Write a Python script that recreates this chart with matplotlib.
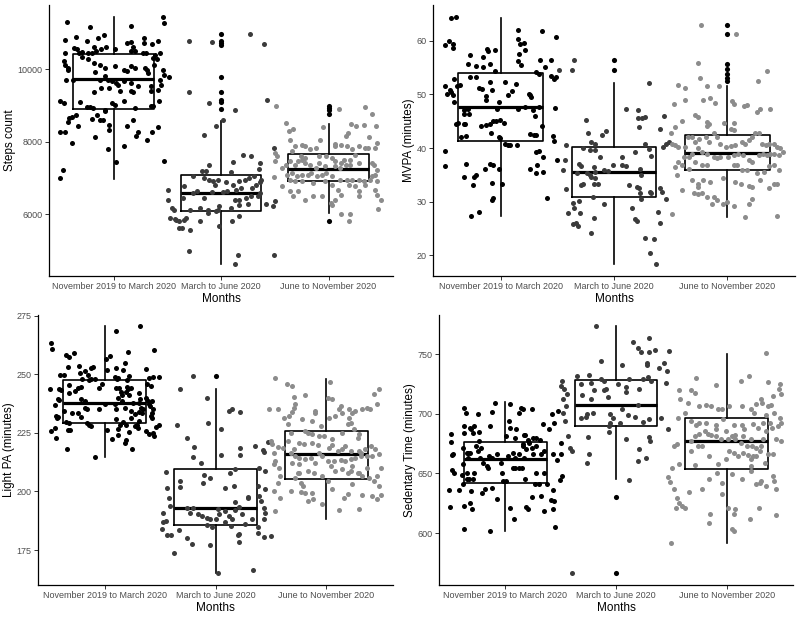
import matplotlib
matplotlib.use('Agg')
import matplotlib.pyplot as plt

plt.rcParams['font.family'] = ['Liberation Sans', 'DejaVu Sans']

months = ['November 2019 to March 2020', 'March to June 2020', 'June to November 2020']
colours = ['#000000', '#3b3b3b', '#8c8c8c']

# box summaries per group: (lower whisker, q1, median, q3, upper whisker)
steps_box = [(6965, 8897, 9724, 10414, 11434), (4612, 6082, 6570, 7084, 8574), (6019, 6910, 7241, 7647, 8483)]
steps_out = [[], [10965, 10763, 10717, 10671, 9789, 9366, 9154, 9081, 8887], [8979, 8932, 8869, 8758, 5806]]
mvpa_box = [(27.3, 41.4, 47.7, 54.0, 64.2), (18.3, 30.8, 35.55, 40.2, 52.2), (27.15, 35.8, 39.1, 42.4, 51.5)]
mvpa_out = [[], [56.5, 54.65], [63.05, 61.37, 55.77, 54.84, 53.9, 53.1, 52.5]]
light_box = [(214.7, 229.4, 237.8, 247.4, 270.6), (165.4, 185.8, 193.1, 209.5, 243.6), (188.4, 205.2, 215.9, 225.8, 247.9)]
light_out = [[], [249.3], []]
sed_box = [(601.7, 642.2, 662.3, 676.3, 710.1), (645.0, 689.7, 707.3, 727.9, 773.5), (591.9, 653.9, 677.4, 696.1, 750.3)]
sed_out = [[], [630.2, 566.8], []]

# jittered points: (horizontal jitter, value)
steps_g1 = [(-0.43, 11290), (-0.22, 11160), (0.16, 11200), (0.46, 11430), (0.47, 11270),
            (-0.45, 10790), (-0.35, 10880), (-0.25, 10780), (-0.14, 10860), (-0.09, 10940), (-0.07, 10620),
            (-0.12, 10550), (-0.18, 10620), (-0.37, 10580), (-0.34, 10550), (-0.32, 10440), (-0.29, 10460),
            (-0.24, 10440), (-0.20, 10440), (-0.16, 10490), (0.01, 10550), (0.13, 10720), (0.16, 10740),
            (0.18, 10620), (0.16, 10490), (0.20, 10490), (0.28, 10860), (0.28, 10720), (0.36, 10700),
            (0.41, 10780), (0.43, 10440), (0.39, 10400), (0.37, 10300), (0.40, 10280), (0.30, 10440), (0.27, 10440),
            (-0.45, 10440), (-0.46, 10210), (-0.45, 10120), (-0.42, 10030), (-0.42, 9980), (-0.44, 9710), (-0.38, 9710),
            (-0.29, 10330), (-0.24, 10290), (-0.18, 10170), (-0.13, 10120), (-0.08, 10030), (0.01, 10070),
            (0.10, 9980), (0.13, 9940), (0.16, 10070), (0.20, 10030), (0.29, 10030), (0.31, 9980), (0.38, 10120),
            (0.46, 9980), (0.47, 9840), (0.52, 9780),
            (-0.17, 9920), (-0.08, 9800), (-0.13, 9710), (-0.05, 9710), (-0.01, 9660), (0.04, 9570), (0.10, 9660),
            (0.16, 9610), (0.23, 9520), (0.32, 9890), (0.35, 9520), (0.43, 9710), (0.44, 9570), (0.41, 9430), (0.35, 9380),
            (-0.18, 9360), (-0.12, 9480), (-0.04, 9480), (0.02, 9610), (0.06, 9380), (0.16, 9380), (0.18, 9360),
            (-0.50, 9110), (-0.46, 9060), (-0.31, 9090), (-0.25, 8950), (-0.22, 8950), (-0.19, 8920), (-0.08, 8880),
            (-0.08, 8830), (0.01, 9020), (-0.01, 9060), (0.10, 9110), (0.20, 8920), (0.35, 8970), (0.37, 8990), (0.42, 9110),
            (-0.35, 8740), (-0.39, 8680), (-0.41, 8650), (-0.42, 8530), (-0.33, 8420), (-0.20, 8620), (-0.15, 8740),
            (-0.13, 8580), (-0.10, 8600), (-0.04, 8460), (-0.04, 8310), (0.18, 8580), (0.13, 8420), (0.23, 8250),
            (0.21, 8140), (0.36, 8250), (0.41, 8400),
            (-0.50, 8250), (-0.45, 8250), (-0.39, 7960), (-0.17, 8120), (-0.05, 7800), (0.10, 7890), (0.31, 8030),
            (0.47, 7450), (0.02, 7430), (-0.47, 7210), (-0.50, 6980)]
steps_g2 = [(-0.30, 10760), (-0.08, 10740), (0.27, 10970), (0.40, 10700), (-0.30, 9370), (-0.11, 9060), (0.13, 8880),
            (0.43, 9140), (-0.05, 8420), (0.02, 8580), (-0.16, 8190), (0.20, 7640), (0.28, 7610), (0.11, 7440),
            (-0.11, 7360), (0.36, 7410), (0.49, 7820),
            (-0.26, 7040), (-0.18, 7180), (-0.14, 7180), (-0.16, 6990), (-0.11, 6950), (-0.07, 6900), (-0.03, 6950),
            (-0.06, 6810), (0.05, 6870), (0.09, 7160), (0.11, 6810), (0.17, 6900), (0.22, 6950), (0.26, 6990),
            (0.31, 7040), (0.35, 7240), (0.36, 6870), (0.37, 6950), (0.33, 6810), (0.29, 6720), (0.19, 6720),
            (0.14, 6670), (0.06, 6630), (0.02, 6600), (-0.08, 6600), (-0.16, 6440), (-0.22, 6630), (-0.34, 6760),
            (-0.35, 6440), (-0.26, 6580), (0.13, 6400), (0.17, 6400), (0.23, 6440), (0.28, 6490), (0.34, 6490),
            (0.36, 6580), (0.42, 6290), (0.50, 6350), (0.48, 6210), (-0.02, 6210), (-0.03, 6120), (-0.05, 6070),
            (-0.12, 6120), (-0.20, 6170), (-0.29, 6120), (0.09, 6170), (0.17, 6260), (0.25, 6290),
            (-0.49, 6670), (-0.49, 6400), (-0.46, 6170), (-0.44, 6120), (-0.47, 5890), (-0.43, 5860), (-0.42, 5840),
            (-0.39, 5800), (-0.34, 5840), (-0.33, 5890), (-0.39, 5610), (-0.36, 5610), (-0.29, 5570), (-0.20, 5800),
            (-0.12, 6030), (-0.02, 5680), (0.10, 5800), (0.17, 5950), (-0.30, 4970), (0.16, 4880), (0.13, 4630), (0.49, 4860)]
steps_g3 = [(-0.49, 8970), (-0.40, 8510), (-0.33, 8350), (-0.37, 8280), (-0.05, 8390), (0.10, 8910), (0.34, 8950),
            (0.40, 8760), (0.21, 8480), (0.26, 8440), (0.33, 8460), (0.44, 8440), (0.18, 8240), (0.16, 8160),
            (0.38, 8120), (0.45, 7960), (0.43, 7820), (0.37, 7820), (0.28, 7870),
            (-0.36, 8050), (-0.31, 7870), (-0.25, 7910), (-0.22, 7890), (-0.34, 7730), (-0.17, 7780), (-0.12, 7820),
            (-0.08, 8050), (0.06, 7930), (0.06, 7870), (0.12, 7910), (0.17, 7870), (0.22, 7780), (0.34, 7820),
            (0.25, 7640), (0.20, 7500), (0.14, 7500), (0.12, 7410), (0.06, 7450), (0.03, 7550), (-0.02, 7590),
            (-0.09, 7590), (-0.22, 7550), (-0.26, 7610), (-0.48, 7590), (-0.50, 7450), (-0.43, 7270), (-0.40, 7360),
            (-0.36, 7450), (-0.31, 7360), (-0.28, 7450), (-0.25, 7500), (-0.22, 7410), (-0.17, 7360), (-0.12, 7270),
            (-0.09, 7410), (-0.03, 7320), (0.06, 7320), (0.11, 7270), (0.16, 7360), (0.20, 7360), (0.28, 7410),
            (0.40, 7410), (0.42, 7360), (0.45, 7220), (0.43, 7090), (0.40, 7040), (0.39, 6950), (0.33, 6900),
            (0.28, 6950), (0.22, 6950), (0.17, 6950), (0.11, 6950), (0.03, 7040), (-0.02, 7130), (-0.06, 7090),
            (-0.11, 7040), (-0.16, 7130), (-0.19, 7090), (-0.25, 7090), (-0.29, 7040), (-0.34, 7130), (-0.39, 7090),
            (-0.36, 6950), (-0.31, 6900), (-0.25, 6900), (-0.14, 6860), (-0.03, 6900), (0.03, 6810), (0.09, 6670),
            (0.19, 6810), (0.25, 6760), (0.34, 6810), (0.45, 6900), (0.43, 6670), (0.45, 6530), (0.49, 6400),
            (0.46, 6140), (0.28, 6630), (0.28, 6490), (0.12, 6530), (0.06, 6400), (0.02, 6300), (0.03, 6260),
            (-0.06, 6490), (-0.14, 6490), (-0.22, 6400), (-0.28, 6630), (-0.33, 6490), (-0.36, 6630), (-0.43, 6760),
            (-0.51, 7010), (-0.50, 7680), (0.12, 6010), (0.20, 6010), (0.19, 5800)]

mvpa_g1 = [(-0.44, 64.35), (-0.40, 64.48), (-0.49, 59.19), (-0.46, 59.94), (-0.42, 59.50), (-0.42, 58.69), (-0.27, 57.33),
           (-0.29, 55.77), (-0.22, 55.27), (-0.16, 57.01), (-0.12, 58.57), (-0.11, 58.13), (-0.05, 58.26), (-0.16, 55.15),
           (-0.10, 55.77), (-0.05, 54.34), (0.15, 61.99), (0.15, 60.44), (0.17, 59.50), (0.20, 59.69), (0.21, 58.38),
           (0.16, 57.64), (0.15, 56.21), (0.18, 55.58), (0.36, 61.87), (0.39, 55.15), (0.35, 56.39), (0.44, 56.39),
           (0.49, 60.75), (0.49, 53.28), (0.47, 52.97), (0.44, 53.41), (0.31, 54.21), (0.34, 53.78),
           (-0.49, 51.54), (-0.48, 50.17), (-0.45, 50.79), (-0.44, 50.48), (-0.42, 49.98), (-0.41, 52.97), (-0.39, 51.54),
           (-0.36, 51.73), (-0.41, 48.62), (-0.40, 44.57), (-0.38, 44.70), (-0.33, 47.06), (-0.33, 46.44), (-0.29, 47.37),
           (-0.27, 53.28), (-0.22, 53.28), (-0.19, 51.29), (-0.17, 50.98), (-0.13, 49.67), (-0.10, 52.35), (-0.08, 50.79),
           (-0.13, 48.93), (-0.02, 48.68), (-0.03, 47.37), (0.04, 52.35), (0.06, 49.86), (0.10, 50.67), (0.13, 52.04),
           (0.15, 47.37), (0.21, 47.68), (0.25, 50.17), (0.26, 49.86), (0.27, 49.55), (0.28, 47.06), (0.30, 46.00),
           (0.34, 47.68), (0.48, 47.56),
           (-0.49, 39.47), (-0.49, 36.61), (-0.33, 44.57), (-0.32, 44.57), (-0.31, 42.21), (-0.35, 42.08), (-0.28, 46.44),
           (-0.18, 44.07), (-0.13, 44.26), (-0.10, 44.45), (-0.09, 42.71), (-0.07, 45.01), (-0.04, 45.07), (-0.02, 42.08),
           (-0.01, 41.96), (-0.01, 45.32), (0.03, 44.70), (0.04, 40.72), (0.06, 40.65), (0.08, 40.53), (0.14, 40.65),
           (0.26, 42.58), (0.29, 42.39), (0.31, 42.52), (0.36, 44.07), (0.31, 39.28), (0.34, 39.47), (0.37, 38.23),
           (0.46, 42.21), (0.47, 41.34), (0.50, 37.85),
           (-0.14, 36.17), (-0.10, 36.98), (-0.07, 36.80), (-0.02, 36.17), (-0.33, 34.62), (-0.31, 36.98), (-0.24, 34.62),
           (-0.22, 34.93), (-0.25, 33.06), (-0.08, 33.50), (-0.08, 30.26), (-0.07, 30.58), (0.01, 33.37), (0.26, 36.17),
           (0.31, 35.24), (0.32, 36.80), (0.37, 35.55), (0.41, 30.58), (-0.19, 28.09), (-0.26, 27.28)]
mvpa_g2 = [(-0.35, 56.52), (-0.37, 54.65), (0.31, 52.16), (0.11, 47.19), (0.21, 47.06), (0.21, 45.69), (0.27, 45.82),
           (0.25, 45.69), (0.22, 43.83), (-0.25, 45.32), (-0.23, 42.83), (-0.11, 42.39), (-0.07, 43.14), (-0.20, 41.15),
           (-0.17, 40.72), (-0.27, 39.91), (-0.21, 39.60), (-0.17, 39.60), (-0.42, 40.53), (-0.45, 35.86), (-0.42, 32.32),
           (0.41, 43.64), (0.44, 45.94), (0.46, 40.84), (0.49, 41.15), (0.43, 40.22), (0.31, 39.72), (0.33, 38.48),
           (0.27, 40.72), (0.19, 39.28), (0.07, 38.35), (-0.12, 38.23), (-0.31, 36.92), (-0.29, 36.61), (-0.33, 35.24),
           (-0.18, 36.49), (-0.17, 35.55), (-0.24, 35.24), (-0.21, 34.93), (-0.20, 34.62), (-0.17, 34.31), (-0.27, 33.37),
           (-0.29, 33.06), (-0.18, 33.25), (-0.14, 33.25), (-0.01, 36.80), (0.07, 36.80), (0.11, 36.67), (0.23, 36.17),
           (0.24, 34.93), (0.13, 33.06), (0.20, 32.63), (0.22, 32.44), (0.23, 31.51), (0.24, 30.39), (0.32, 31.82),
           (0.33, 31.51), (0.41, 32.44), (0.42, 31.82), (0.46, 30.45), (-0.09, 35.86), (-0.05, 35.74), (-0.19, 30.89),
           (-0.31, 30.14), (-0.36, 29.64), (-0.35, 28.71), (-0.30, 27.78), (-0.41, 27.78), (-0.34, 26.03), (-0.32, 25.41),
           (-0.36, 25.79), (-0.18, 26.84), (-0.09, 29.52), (0.16, 28.71), (0.19, 26.66), (0.20, 26.35), (0.39, 28.09),
           (0.41, 26.03), (0.27, 23.11), (0.35, 22.92), (-0.20, 24.17), (0.32, 20.31), (0.37, 18.26), (-0.49, 54.5),
           (-0.43, 37.73)]
mvpa_g3 = [(-0.23, 63.05), (0.08, 61.37), (-0.26, 55.89), (-0.24, 53.16), (-0.43, 51.85), (-0.37, 51.23), (-0.18, 51.54),
           (-0.07, 51.54), (0.35, 54.40), (0.27, 52.47), (-0.15, 49.36), (-0.21, 49.05), (-0.11, 48.49), (-0.37, 49.05),
           (-0.47, 48.30), (0.04, 48.74), (0.06, 48.30), (0.15, 47.81), (0.18, 47.99), (0.26, 46.75), (0.29, 47.19),
           (0.38, 47.25), (-0.28, 46.25), (-0.26, 45.82), (-0.40, 45.01), (-0.18, 44.88), (-0.16, 44.57), (-0.18, 44.07),
           (-0.03, 44.70), (0.06, 44.70), (0.03, 43.64), (0.06, 43.33), (-0.46, 43.95), (-0.50, 42.71), (-0.49, 40.84),
           (-0.46, 40.53), (-0.43, 40.22), (-0.37, 40.22), (-0.35, 42.08), (-0.31, 42.08), (-0.28, 41.15), (-0.25, 41.59),
           (-0.19, 42.08), (-0.16, 41.15), (-0.12, 42.71), (-0.09, 42.08), (-0.06, 40.84), (-0.01, 40.22), (0.03, 40.40),
           (0.07, 40.53), (0.13, 41.15), (0.16, 40.84), (0.19, 41.46), (0.22, 42.08), (0.25, 42.71), (0.28, 42.71),
           (0.31, 40.84), (0.34, 40.65), (0.37, 40.84), (0.41, 40.84), (0.44, 40.22), (0.47, 39.91), (0.49, 39.28),
           (0.46, 38.66), (0.41, 38.97), (0.38, 38.97), (0.35, 38.66), (0.32, 38.97), (0.28, 38.66), (0.22, 37.42),
           (0.19, 37.73), (0.14, 38.66), (0.10, 38.85), (0.06, 38.66), (0.01, 38.35), (-0.06, 38.35), (-0.12, 38.35),
           (-0.18, 38.97), (-0.22, 39.28), (-0.26, 39.91), (-0.31, 38.97), (-0.34, 38.35), (-0.38, 38.35), (-0.43, 37.42),
           (-0.46, 36.49), (-0.44, 34.93), (-0.40, 36.80), (-0.34, 36.17), (-0.28, 37.42), (-0.22, 36.80), (-0.18, 36.80),
           (-0.09, 38.04), (0.06, 36.80), (0.09, 36.80), (0.13, 35.86), (0.18, 35.86), (0.26, 35.24), (0.33, 35.55),
           (0.37, 36.61), (0.41, 36.80), (0.46, 35.86), (0.44, 33.37), (0.41, 33.37), (0.37, 32.44), (0.29, 34.00),
           (0.22, 32.75), (0.19, 32.88), (0.12, 33.37), (0.07, 33.69), (-0.04, 34.31), (-0.15, 33.69), (-0.21, 34.00),
           (-0.26, 33.37), (-0.31, 34.00), (-0.26, 32.75), (-0.40, 32.13), (-0.29, 31.63), (-0.26, 31.38), (-0.22, 31.51),
           (-0.18, 30.89), (-0.12, 30.89), (-0.13, 29.52), (-0.09, 30.26), (-0.04, 29.52), (0.00, 29.95), (0.06, 29.14),
           (0.16, 27.15), (0.19, 29.52), (0.22, 30.39), (0.44, 27.28), (-0.49, 27.65)]

light_g1 = [(-0.48, 263.5), (-0.47, 261.0), (-0.35, 258.1), (-0.32, 257.5), (-0.28, 259.0), (-0.40, 249.6), (-0.33, 253.1),
            (-0.23, 253.6), (-0.22, 250.4), (-0.18, 251.4), (-0.15, 249.9), (-0.12, 252.8), (-0.10, 253.1), (-0.14, 247.4),
            (-0.12, 247.9), (-0.09, 247.9), (-0.20, 247.9), (-0.21, 244.7), (-0.24, 244.3), (-0.32, 245.3), (-0.37, 249.6),
            (-0.49, 243.9), (-0.41, 243.9), (-0.39, 243.3), (-0.45, 236.8), (-0.42, 239.6), (-0.41, 239.0), (-0.44, 232.2),
            (-0.43, 231.5), (-0.42, 231.9), (-0.37, 234.4), (-0.32, 241.9), (-0.27, 242.9), (-0.21, 239.3), (-0.18, 238.6),
            (-0.16, 235.3), (-0.18, 235.6), (-0.21, 231.9), (-0.24, 233.4), (-0.29, 233.4), (-0.32, 229.4), (-0.35, 229.7),
            (-0.33, 226.2), (-0.31, 226.2), (-0.45, 227.2), (-0.48, 225.7), (-0.44, 223.0), (-0.34, 218.0), (-0.14, 228.2),
            (-0.16, 229.1), (-0.12, 228.0), (-0.05, 235.1), (-0.05, 244.0), (0.01, 256.7), (0.02, 251.8), (0.05, 257.8),
            (0.10, 252.8), (0.09, 249.0), (0.11, 247.9), (0.12, 248.3), (0.12, 240.0), (0.10, 244.3), (0.13, 244.0),
            (0.15, 242.5), (0.16, 241.0), (0.16, 238.6), (0.09, 237.2), (0.10, 235.1), (0.10, 230.8), (0.12, 226.5),
            (0.07, 222.3), (0.02, 226.2), (0.12, 224.1), (0.14, 228.2), (0.17, 229.7), (0.19, 228.2), (0.18, 235.8),
            (0.20, 247.6), (0.20, 244.7), (0.19, 242.5), (0.22, 249.3), (0.22, 241.0), (0.24, 244.0), (0.26, 237.6),
            (0.27, 232.9), (0.24, 234.4), (0.24, 231.5), (0.22, 225.4), (0.19, 222.0), (0.21, 243.6), (0.25, 218.3),
            (0.18, 220.8), (0.27, 228.0), (0.30, 227.2), (0.29, 228.2), (0.31, 230.2), (0.31, 233.9), (0.31, 237.9),
            (0.32, 239.3), (0.31, 242.2), (0.34, 233.6), (0.35, 235.1), (0.33, 235.8), (0.37, 252.1), (0.45, 260.4),
            (0.44, 248.7), (0.40, 248.6), (0.38, 245.7), (0.42, 245.0), (0.37, 240.0), (0.39, 238.6), (0.40, 237.5),
            (0.41, 236.5), (0.43, 238.6), (0.44, 235.1), (0.43, 231.5), (0.42, 232.2), (0.43, 233.6), (0.37, 225.8),
            (0.40, 224.4), (0.44, 225.1), (0.45, 223.7), (0.49, 228.2), (0.46, 227.7), (0.49, 249.0), (0.32, 270.6),
            (0.10, 268.5), (0.21, 259.7), (0.18, 255.0), (0.17, 251.8), (0.00, 237.5), (-0.02, 245.7), (-0.09, 214.7)]
light_g2 = [(-0.20, 249.3), (-0.32, 243.9), (-0.08, 240.0), (-0.07, 229.4), (0.05, 226.8), (0.12, 234.4), (0.15, 235.3),
            (0.22, 233.9), (-0.35, 228.2), (-0.26, 223.0), (-0.19, 219.1), (-0.20, 214.9), (-0.13, 212.0), (0.05, 215.4),
            (0.22, 218.7), (0.22, 215.4), (0.36, 219.4), (0.44, 216.9), (0.47, 221.1), (0.43, 217.7), (-0.45, 208.3),
            (-0.44, 201.6), (-0.42, 197.4), (-0.41, 193.8), (-0.47, 191.0), (-0.47, 187.0), (-0.48, 183.9), (-0.45, 187.4),
            (-0.44, 181.4), (-0.40, 181.4), (-0.32, 204.5), (-0.32, 201.9), (-0.10, 207.0), (-0.05, 205.9), (-0.11, 203.8),
            (0.18, 209.5), (0.13, 208.0), (0.09, 201.6), (0.17, 202.3), (0.29, 197.8), (0.29, 197.1), (0.39, 210.2),
            (0.38, 202.3), (0.39, 198.1), (0.41, 195.9), (0.45, 208.7), (0.45, 201.2), (0.44, 193.1), (0.45, 191.0),
            (0.44, 188.1), (0.38, 182.4), (0.44, 180.7), (0.50, 181.0), (-0.26, 193.1), (-0.20, 193.1), (-0.23, 191.0),
            (-0.16, 190.3), (-0.12, 189.5), (-0.08, 188.8), (-0.05, 188.1), (0.02, 192.4), (0.03, 190.3), (0.00, 188.1),
            (0.09, 191.7), (0.12, 189.5), (0.15, 188.1), (0.18, 192.1), (0.21, 193.5), (0.24, 190.3), (0.18, 195.5),
            (0.27, 186.0), (0.33, 188.4), (0.09, 187.0), (-0.08, 185.6), (-0.03, 184.9), (0.14, 185.3), (0.21, 181.7),
            (0.20, 181.3), (0.21, 178.4), (-0.33, 183.4), (-0.26, 180.3), (-0.21, 177.7), (-0.05, 177.0), (-0.37, 173.9),
            (0.02, 165.4), (0.34, 166.5), (0.38, 184.9)]
light_g3 = [(-0.46, 248.3), (-0.36, 245.7), (-0.31, 245.0), (-0.19, 241.2), (-0.29, 240.5), (-0.28, 237.5), (-0.29, 235.8),
            (-0.31, 234.1), (-0.34, 232.2), (-0.52, 235.1), (-0.44, 235.1), (-0.38, 231.5), (-0.35, 228.7), (-0.32, 225.1),
            (-0.35, 221.6), (-0.39, 218.4), (-0.44, 219.1), (-0.49, 220.1), (-0.50, 221.6), (-0.47, 216.3), (-0.46, 213.0),
            (-0.47, 211.6), (-0.43, 210.2), (-0.42, 206.6), (-0.44, 203.8), (-0.47, 200.2), (-0.42, 197.4), (-0.46, 191.7),
            (-0.32, 200.2), (-0.29, 218.0), (-0.25, 211.6), (-0.26, 208.0), (-0.23, 203.8), (-0.21, 202.3), (-0.23, 199.8),
            (-0.19, 199.5), (-0.17, 196.0), (-0.13, 199.5), (-0.12, 196.7), (-0.04, 194.5), (-0.25, 220.6), (-0.20, 220.1),
            (-0.13, 220.6), (-0.08, 219.7), (-0.07, 216.6), (-0.04, 215.2), (0.01, 213.0), (0.02, 218.7), (0.05, 219.8),
            (0.10, 217.3), (0.14, 218.0), (0.17, 219.4), (0.22, 217.3), (0.29, 217.3), (0.35, 218.0), (0.40, 219.4),
            (0.44, 218.3), (0.47, 215.9), (0.41, 215.2), (0.37, 215.2), (0.31, 215.2), (0.26, 214.4), (0.22, 213.7),
            (0.17, 213.0), (0.13, 213.4), (0.07, 213.0), (0.04, 210.9), (0.08, 208.7), (0.14, 209.5), (0.19, 208.0),
            (0.22, 208.7), (0.28, 208.0), (0.32, 206.6), (0.38, 205.9), (0.43, 204.5), (0.46, 206.6), (0.49, 210.2),
            (0.47, 202.3), (0.49, 198.4), (0.46, 196.7), (0.41, 198.1), (0.32, 198.4), (0.29, 192.7), (0.23, 203.1),
            (0.19, 198.8), (0.16, 197.4), (0.11, 192.1), (0.05, 200.9), (0.01, 204.5), (-0.04, 206.6), (-0.11, 208.0),
            (-0.17, 208.7), (-0.25, 208.0), (-0.28, 205.9), (-0.10, 212.3), (-0.14, 214.4), (-0.19, 213.7), (-0.25, 214.4),
            (-0.28, 215.2), (-0.31, 212.3), (-0.32, 216.6), (-0.17, 225.1), (-0.13, 224.4), (-0.07, 223.7), (-0.02, 223.7),
            (0.05, 222.3), (0.14, 225.1), (0.19, 228.7), (0.22, 229.4), (0.11, 235.1), (0.13, 236.5), (0.05, 239.3),
            (0.01, 240.0), (0.03, 246.7), (-0.05, 228.0), (-0.10, 234.4), (-0.10, 233.6), (-0.22, 230.8), (-0.19, 225.8),
            (-0.13, 230.1), (0.08, 232.2), (0.02, 231.5), (0.29, 224.4), (0.28, 223.0), (0.23, 233.6), (0.26, 234.4),
            (0.32, 235.1), (0.39, 235.1), (0.43, 241.7), (0.47, 243.6), (0.46, 237.2), (0.37, 235.8), (0.20, 235.1),
            (0.14, 233.6), (0.20, 231.5), (0.25, 226.5), (0.31, 216.6), (0.37, 210.2), (0.29, 208.0), (0.23, 210.9)]

sed_g1 = [(-0.49, 682.7), (-0.49, 676.3), (-0.47, 666.5), (-0.48, 665.1), (-0.48, 652.5), (-0.46, 650.6), (-0.51, 635.8),
          (-0.50, 622.1), (-0.42, 635.8), (-0.37, 622.6), (-0.37, 603.1), (-0.37, 705.0), (-0.36, 700.8), (-0.37, 689.7),
          (-0.37, 684.1), (-0.38, 671.5), (-0.35, 667.3), (-0.34, 666.8), (-0.32, 667.3), (-0.34, 663.1), (-0.38, 658.1),
          (-0.39, 648.3), (-0.38, 640.8), (-0.35, 650.0), (-0.35, 645.0), (-0.33, 645.0), (-0.29, 645.0), (-0.28, 650.6),
          (-0.31, 635.2), (-0.32, 624.9), (-0.30, 619.8), (-0.29, 684.1), (-0.31, 686.9), (-0.32, 688.3), (-0.28, 689.7),
          (-0.25, 699.4), (-0.24, 684.6), (-0.24, 677.1), (-0.27, 672.9), (-0.25, 668.7), (-0.22, 671.5), (-0.23, 663.1),
          (-0.20, 658.9), (-0.18, 637.2), (-0.21, 633.2), (-0.17, 656.1), (-0.16, 654.7), (-0.15, 664.5), (-0.14, 689.7),
          (-0.12, 701.4), (-0.09, 709.2), (-0.12, 663.1), (-0.12, 637.4), (-0.14, 601.7), (-0.08, 628.2), (-0.08, 665.9),
          (-0.04, 658.9), (-0.03, 650.6), (-0.02, 643.6), (0.01, 643.6), (0.01, 681.3), (0.03, 693.9), (0.04, 688.3),
          (0.04, 707.8), (0.02, 664.5), (0.07, 667.3), (0.09, 663.1), (0.07, 654.7), (0.09, 679.9), (0.10, 686.9),
          (0.09, 654.7), (0.04, 621.2), (0.08, 612.0), (0.12, 700.8), (0.14, 705.0), (0.16, 703.6), (0.18, 681.8),
          (0.16, 674.3), (0.17, 663.1), (0.12, 665.9), (0.12, 654.7), (0.15, 654.7), (0.17, 681.8), (0.21, 675.7),
          (0.24, 671.5), (0.25, 679.9), (0.24, 703.6), (0.20, 677.9), (0.16, 672.9), (0.18, 645.0), (0.19, 670.7),
          (0.19, 622.1), (0.20, 620.4), (0.24, 630.2), (0.28, 650.6), (0.27, 640.8), (0.28, 679.9), (0.31, 677.9),
          (0.28, 672.9), (0.25, 665.9), (0.34, 691.1), (0.32, 665.9), (0.35, 668.7), (0.35, 650.0), (0.32, 631.0),
          (0.30, 640.8), (0.35, 618.4), (0.42, 699.4), (0.44, 691.9), (0.43, 665.9), (0.39, 686.9), (0.38, 640.8),
          (0.43, 636.0), (0.41, 627.7), (0.43, 619.8), (0.44, 626.8), (0.45, 605.3), (0.47, 661.2), (0.48, 702.2),
          (0.50, 675.1), (0.50, 665.9), (0.49, 644.1), (0.51, 647.8)]
sed_g2 = [(-0.18, 773.5), (0.15, 760.3), (0.20, 755.3), (0.23, 751.7), (0.30, 763.1), (0.30, 751.7), (0.35, 753.4),
          (0.28, 740.5), (0.28, 742.7), (0.39, 738.5), (0.43, 742.2), (0.46, 735.8), (0.48, 752.5), (0.05, 740.5),
          (-0.14, 744.1), (-0.35, 731.6), (-0.24, 732.4), (-0.32, 724.6), (-0.23, 725.4), (-0.14, 728.8), (-0.11, 727.4),
          (0.02, 724.6), (0.12, 729.3), (0.24, 728.8), (0.29, 731.0), (0.32, 727.4), (0.45, 726.0), (-0.31, 715.4),
          (-0.20, 719.8), (-0.11, 719.8), (-0.09, 720.4), (-0.07, 714.2), (0.09, 722.6), (0.09, 718.2), (0.21, 720.9),
          (-0.23, 712.0), (-0.26, 699.4), (-0.27, 697.5), (-0.32, 696.6), (-0.21, 700.8), (-0.05, 699.4), (-0.03, 696.6),
          (0.05, 703.6), (0.11, 698.6), (0.17, 697.5), (0.20, 707.0), (0.30, 695.8), (0.24, 693.0), (0.41, 696.6),
          (0.47, 686.9), (-0.06, 689.7), (-0.06, 684.6), (-0.05, 692.5), (0.04, 691.9), (-0.25, 680.7), (0.09, 678.5),
          (0.21, 670.7), (0.27, 663.1), (0.30, 680.7), (0.31, 677.1), (0.20, 660.3), (-0.24, 665.9), (-0.26, 658.4),
          (0.12, 644.4), (-0.47, 720.4), (-0.44, 716.2), (-0.48, 712.0), (-0.45, 706.4), (-0.48, 700.8), (-0.46, 693.9),
          (-0.43, 681.3), (-0.42, 671.5), (-0.40, 668.7), (-0.40, 566.8), (-0.49, 727.4), (-0.50, 723.0)]
sed_g3 = [(0.36, 750.6), (0.20, 731.6), (0.13, 727.4), (-0.28, 729.6), (-0.10, 724.0), (0.37, 726.5), (0.48, 724.6),
          (0.47, 720.9), (0.42, 714.8), (0.49, 716.2), (-0.43, 719.8), (-0.32, 719.8), (-0.29, 717.6), (-0.35, 709.2),
          (-0.42, 712.0), (-0.25, 706.4), (-0.19, 707.0), (-0.14, 706.4), (-0.08, 703.6), (-0.04, 703.6), (0.02, 706.4),
          (0.14, 706.4), (0.22, 703.6), (0.25, 700.8), (0.31, 712.0), (0.32, 709.2), (0.27, 708.4), (0.37, 706.4),
          (0.40, 707.0), (0.43, 700.8), (0.36, 698.6), (0.48, 696.6), (0.49, 692.5), (0.46, 689.7), (0.41, 688.3),
          (0.39, 692.5), (-0.44, 696.6), (-0.38, 700.8), (-0.32, 693.9), (-0.28, 690.2), (-0.25, 692.5), (-0.19, 692.5),
          (-0.10, 690.2), (-0.10, 687.4), (-0.03, 695.8), (-0.01, 685.5), (0.07, 690.2), (0.14, 690.2), (0.16, 686.9),
          (0.24, 691.1), (0.28, 688.3), (0.33, 692.5), (0.36, 685.5), (0.45, 678.5), (0.49, 677.1), (0.42, 665.9),
          (0.37, 665.9), (0.35, 658.9), (0.30, 668.7), (0.27, 664.5), (0.24, 664.5), (0.22, 662.3), (0.19, 665.1),
          (0.15, 666.8), (0.10, 664.5), (0.07, 666.8), (0.02, 668.7), (-0.01, 661.7), (-0.08, 657.5), (-0.16, 664.5),
          (-0.22, 672.9), (-0.26, 672.9), (-0.32, 668.7), (-0.32, 677.1), (-0.29, 681.3), (-0.25, 682.7), (-0.20, 685.5),
          (-0.17, 682.7), (-0.14, 681.8), (-0.10, 681.3), (-0.05, 678.5), (0.01, 679.1), (0.05, 681.3), (0.08, 678.5),
          (0.13, 675.7), (0.18, 672.9), (0.23, 672.9), (0.27, 671.5), (0.31, 672.9), (0.33, 679.1), (0.22, 679.1),
          (0.15, 681.3), (0.08, 681.8), (-0.48, 672.9), (-0.45, 674.3), (-0.49, 654.7), (-0.43, 657.5), (-0.53, 646.9),
          (-0.51, 642.7), (-0.48, 637.2), (-0.45, 629.6), (-0.43, 624.9), (-0.46, 621.2), (-0.40, 622.6), (-0.38, 621.2),
          (-0.34, 634.4), (-0.29, 656.7), (-0.22, 636.6), (-0.16, 645.5), (-0.09, 650.6), (-0.04, 642.2), (-0.04, 632.4),
          (0.01, 621.2), (0.05, 649.2), (0.08, 619.8), (0.07, 615.6), (0.05, 603.1), (0.07, 601.7), (0.14, 645.0),
          (0.22, 656.1), (0.22, 652.0), (0.27, 640.8), (0.30, 642.2), (0.31, 643.6), (0.36, 639.4), (0.42, 647.8),
          (0.43, 643.6), (0.45, 636.6), (0.29, 621.2), (0.21, 612.0), (-0.15, 615.6), (-0.16, 608.7), (-0.50, 591.9),
          (0.45, 614.8)]


def panel(ax, groups, boxes, outliers, ylabel, yticks, ylim):
    stats = []
    for (lo, q1, med, q3, hi), fl in zip(boxes, outliers):
        stats.append(dict(whislo=lo, q1=q1, med=med, q3=q3, whishi=hi, fliers=fl))
    ax.bxp(stats, positions=[1, 2, 3], widths=0.75, showcaps=False,
           boxprops=dict(color='black', linewidth=1.2),
           whiskerprops=dict(color='black', linewidth=1.2),
           medianprops=dict(color='black', linewidth=2.3),
           flierprops=dict(marker='o', markerfacecolor='black', markeredgecolor='none', markersize=3.7))
    for i, (pts, c) in enumerate(zip(groups, colours)):
        dx, vals = zip(*pts)
        ax.scatter([i + 1 + d for d in dx], vals, s=13, color=c, linewidths=0, zorder=3)
    ax.set_xlim(0.4, 3.6)
    ax.set_ylim(*ylim)
    ax.set_xticks([1, 2, 3])
    ax.set_xticklabels(months)
    ax.set_yticks(yticks)
    ax.spines[['top', 'right']].set_visible(False)
    for s in ['left', 'bottom']:
        ax.spines[s].set_linewidth(0.9)
    ax.tick_params(length=3, width=0.7, color='#333333', labelsize=6.5, labelcolor='#4d4d4d', pad=1.5)
    ax.set_xlabel('Months', fontsize=8.5, labelpad=1)
    ax.set_ylabel(ylabel, fontsize=8.4, labelpad=1)


fig = plt.figure(figsize=(8, 6.18), dpi=100)
ax1 = fig.add_axes([0.06125, 0.5534, 0.43, 0.4385])
ax2 = fig.add_axes([0.54125, 0.5534, 0.4525, 0.4385])
ax3 = fig.add_axes([0.0475, 0.0534, 0.44375, 0.4369])
ax4 = fig.add_axes([0.54875, 0.0534, 0.4425, 0.4369])

panel(ax1, [steps_g1, steps_g2, steps_g3], steps_box, steps_out, 'Steps count', [6000, 8000, 10000], (4290, 11766))
panel(ax2, [mvpa_g1, mvpa_g2, mvpa_g3], mvpa_box, mvpa_out, 'MVPA (minutes)', [20, 30, 40, 50, 60], (16.1, 66.7))
panel(ax3, [light_g1, light_g2, light_g3], light_box, light_out, 'Light PA (minutes)', [175, 200, 225, 250, 275], (160.1, 275.3))
panel(ax4, [sed_g1, sed_g2, sed_g3], sed_box, sed_out, 'Sedentary Time (minutes)', [600, 650, 700, 750], (556.5, 782.7))

fig.savefig('out.png', dpi=100)
